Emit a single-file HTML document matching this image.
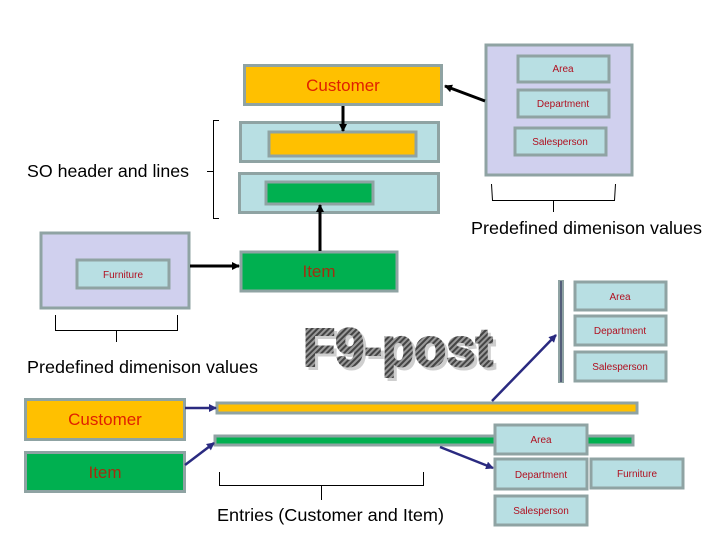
<!DOCTYPE html>
<html><head><meta charset="utf-8"><style>
html,body{margin:0;padding:0;background:#fff;}
svg{display:block;}
text{font-family:"Liberation Sans",Arial,sans-serif;}
</style></head><body>
<svg width="720" height="540" viewBox="0 0 720 540" xmlns="http://www.w3.org/2000/svg">
<defs>
<marker id="ab" markerWidth="8" markerHeight="8" refX="7" refY="4" orient="auto" markerUnits="userSpaceOnUse"><path d="M0,0 L8,4 L0,8 z" fill="#000"/></marker>
<marker id="an" markerWidth="8" markerHeight="8" refX="7" refY="4" orient="auto" markerUnits="userSpaceOnUse"><path d="M0,0 L8,4 L0,8 z" fill="#2a2a80"/></marker>
<pattern id="hatch" width="4" height="4" patternUnits="userSpaceOnUse" patternTransform="rotate(45)"><rect width="4" height="4" fill="#9a9a9a"/><rect width="2" height="4" fill="#444"/></pattern>
</defs>
<g stroke="#8fa3a3" stroke-width="3">
<rect x="244.5" y="65.5" width="197" height="39" fill="#ffc000"/>
<rect x="240.5" y="122.5" width="198" height="39" fill="#b8dfe3"/>
<rect x="269" y="132" width="147" height="24" fill="#ffc000"/>
<rect x="239.5" y="173.5" width="199" height="39" fill="#b8dfe3"/>
<rect x="266" y="182" width="107" height="22" fill="#00b050"/>
<rect x="486" y="45" width="146" height="130" fill="#d0d0ee"/>
<rect x="518" y="56" width="91" height="26" fill="#b8dfe3"/>
<rect x="518" y="90" width="91" height="27" fill="#b8dfe3"/>
<rect x="515" y="128" width="91" height="27" fill="#b8dfe3"/>
<rect x="241" y="252" width="156" height="39" fill="#00b050"/>
<rect x="41" y="233" width="148" height="75" fill="#d0d0ee"/>
<rect x="77" y="260" width="92" height="28" fill="#b8dfe3"/>
<rect x="575" y="282" width="91" height="28" fill="#b8dfe3"/>
<rect x="575" y="316" width="91" height="29" fill="#b8dfe3"/>
<rect x="575" y="352" width="91" height="29" fill="#b8dfe3"/>
<rect x="25.5" y="399.5" width="159" height="40" fill="#ffc000"/>
<rect x="25.5" y="452.5" width="159" height="39" fill="#00b050"/>
<rect x="217" y="403" width="420" height="10" fill="#ffc000"/>
<rect x="215" y="436" width="418" height="9" fill="#00b050"/>
<rect x="495" y="425" width="92" height="29" fill="#b8dfe3"/>
<rect x="495" y="459" width="92" height="30" fill="#b8dfe3"/>
<rect x="591" y="459" width="92" height="29" fill="#b8dfe3"/>
<rect x="495" y="496" width="92" height="29" fill="#b8dfe3"/>
</g>
<rect x="558" y="280" width="6" height="103" fill="#8fa3a3"/>
<line x1="561" y1="281" x2="561" y2="382" stroke="#1a1a50" stroke-width="1"/>
<g stroke="#000" stroke-width="3" fill="none">
<line x1="343" y1="106" x2="343" y2="131" marker-end="url(#ab)"/>
<line x1="320" y1="251" x2="320" y2="205" marker-end="url(#ab)"/>
<line x1="485" y1="101" x2="445" y2="86" marker-end="url(#ab)"/>
<line x1="190" y1="266" x2="239" y2="266" marker-end="url(#ab)"/>
</g>
<g stroke="#2a2a80" stroke-width="2.5" fill="none">
<line x1="185" y1="408" x2="216" y2="408" marker-end="url(#an)"/>
<line x1="185" y1="465" x2="214" y2="443" marker-end="url(#an)"/>
<line x1="492" y1="401" x2="556" y2="335" marker-end="url(#an)"/>
<line x1="440" y1="447" x2="493" y2="468" marker-end="url(#an)"/>
</g>
<g stroke="#000" stroke-width="1" fill="none">
<path d="M219,120.5 H213.5 V218.5 H219 M213.5,171.5 H207"/>
<path d="M491.5,184 L492.5,200.5 H614.5 L615.5,184 M553.5,200.5 V212"/>
<path d="M55.5,315 V330.5 H177.5 V315 M116.5,330.5 V342"/>
<path d="M219.5,472 V485.5 H423.5 V472 M321.5,485.5 V500"/>
</g>
<g font-size="17.5" fill="#000">
<text x="27" y="177" textLength="162" lengthAdjust="spacingAndGlyphs">SO header and lines</text>
<text x="471" y="234" textLength="231" lengthAdjust="spacingAndGlyphs">Predefined dimenison values</text>
<text x="27" y="373" textLength="231" lengthAdjust="spacingAndGlyphs">Predefined dimenison values</text>
<text x="217" y="521" textLength="227" lengthAdjust="spacingAndGlyphs">Entries (Customer and Item)</text>
</g>
<g font-size="17" text-anchor="middle">
<text x="343" y="91" fill="#e02000">Customer</text>
<text x="319" y="277" fill="#a03010">Item</text>
<text x="105" y="425" fill="#e02000">Customer</text>
<text x="105" y="478" fill="#a03010">Item</text>
</g>
<g font-size="10" text-anchor="middle" fill="#b01020">
<text x="563" y="72">Area</text>
<text x="563" y="107">Department</text>
<text x="560" y="145">Salesperson</text>
<text x="123" y="278">Furniture</text>
<text x="620" y="300">Area</text>
<text x="620" y="334">Department</text>
<text x="620" y="370">Salesperson</text>
<text x="541" y="443">Area</text>
<text x="541" y="478">Department</text>
<text x="637" y="477">Furniture</text>
<text x="541" y="514">Salesperson</text>
</g>
<text x="306" y="369" font-size="54" font-weight="bold" fill="#cfcfcf" stroke="#cfcfcf" stroke-width="2" textLength="190" lengthAdjust="spacingAndGlyphs">F9-post</text>
<text x="303" y="366" font-size="54" font-weight="bold" fill="url(#hatch)" stroke="url(#hatch)" stroke-width="2" textLength="190" lengthAdjust="spacingAndGlyphs">F9-post</text>
</svg>
</body></html>
